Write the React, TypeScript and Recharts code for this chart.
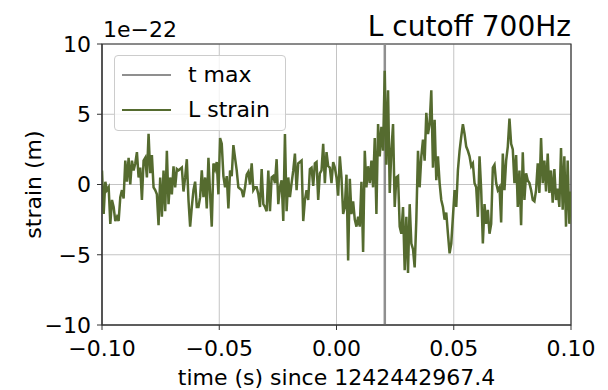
import React from "react";
import {
  LineChart,
  Line,
  XAxis,
  YAxis,
  CartesianGrid,
  ReferenceLine,
  ReferenceArea,
  Legend,
  Label,
} from "recharts";

const FONT = "'DejaVu Sans', sans-serif";

// time window (s since 1242442967.4), evenly sampled
const tStart = -0.1;
const tEnd = 0.1;
const tMax = 0.0206;

// L strain, units of 1e-22 left to right
const strain = [
  1.0, -2.1, 0.2, -0.4, -0.2, -2.8, -1.1, -1.6, -2.6, -2.3, -2.6, -0.9, -0.4, -1.0, 1.7, 0.2,
  1.9, 0.0, 1.7, 1.0, 1.5, 2.3, 0.5, 1.2, -1.1, 1.7, 1.9, 0.5, 3.6, 0.8, 2.1, -0.2, -0.4, -0.7,
  -2.9, 0.5, -2.3, 1.0, -1.9, 2.4, -1.4, 0.5, -0.7, 1.3, -0.2, 1.1,
  1.0, 1.1, 1.2, -0.5, 0.5, 1.8, -1.1, -3.0, -1.6, -0.4, 0.2, -1.6, -1.6, -0.9, 1.0, -0.9, 0.5,
  -1.7, 1.9, -0.7, -3.0, 1.5, 1.1, 1.6, -0.7, 3.3, 2.9, 0.6, -0.2, 0.6, -1.7, 1.0, 0.6, 2.8,
  1.9, 1.0, -0.2, -0.3, -0.4, -0.9, -0.2, 0.7, 0.9, 0.0, 1.5, -0.4, -0.2,
  -0.2, -0.7, -1.6, 1.1, -1.4, -1.6, -1.9, 1.0, -1.9, 0.5, 0.6, 0.1, 1.8, -1.4, -0.2, 0.3, -2.6,
  3.6, -1.9, 0.5, -0.9, 0.1, 1.0, 2.2, -0.4, 1.5, 1.6, 1.7, -2.6, -1.1, -0.4, -1.1, 1.1, 1.2,
  -0.1, 1.5, 1.6, -1.1, 0.8, 1.0, 2.9, 0.1, 2.3, 1.3, 1.2, 0.1, 1.6,
  1.2, 0.5, -0.8, 2.0, 0.5, -2.1, -1.6, 0.7, -5.4, 0.4, -2.1, -1.2, -2.5, -3.0, -2.3, -3.0, 0.2,
  -4.8, 2.4, -0.2, 1.3, 0.1, 1.7, -0.2, 3.3, -2.1, 4.3, 2.0, 4.1, 2.4, 8.1, 1.4, 6.7, -0.6, 2.4,
  4.3, -1.6, 0.5, 0.6, -3.0, -3.5, -1.6, -6.1, -2.3, -6.3, -1.4, -4.2, -4.6,
  -5.9, -2.5, 2.4, -0.2, 2.0, 3.2, 1.7, 5.1, 3.6, 4.3, 6.7, 1.2, 4.6, 0.3, 2.0, 0.1, -1.1, -1.6,
  -2.5, -2.0, -3.5, -4.9, -4.2, -2.3, -0.4, -1.6, 1.0, 2.4, 3.4, 4.3, 3.6, 2.7, 2.4, 2.0, 1.3,
  1.5, 0.1, -0.2, -2.3, 2.0, -0.4, -4.2, -1.4, -2.8, -1.8, -3.5, -2.8,
  1.2, 1.4, 0.1, -0.4, -0.2, -2.7, 2.2, -0.4, 1.7, 2.7, 4.7, 2.9, 2.5, 0.1, 2.1, -1.6, 1.0, -2.9,
  2.3, -1.1, 0.8, 0.3, 0.1, -0.4, -1.1, -1.2, -0.4, 1.5, -0.6, 3.3, 0.1, 1.7, -0.5, 2.2, -0.6,
  1.0, -1.3, 1.1, -1.1, -0.3, -1.6, 2.6, -1.8, 2.0, -3.0, 1.7, -2.8, -0.5,
];

const xTicks = [-0.1, -0.05, 0, 0.05, 0.1];
const yTicks = [-10, -5, 0, 5, 10];

const legendItems = [
  { label: "t max", color: "#8f8f8f" },
  { label: "L strain", color: "#556b2f" },
];

const data = strain.map((v, i) => ({
  t: +(tStart + (i * (tEnd - tStart)) / (strain.length - 1)).toFixed(6),
  v,
}));

const minus = (s: string) => s.replace("-", "\u2212");

function LegendBox() {
  return (
    <div
      style={{
        boxSizing: "border-box",
        width: 172,
        height: 76,
        border: "1px solid #cccccc",
        borderRadius: 4,
        background: "rgba(255,255,255,0.8)",
        padding: "1px 0 0 7px",
        fontFamily: FONT,
        fontSize: 22,
        color: "#000",
      }}
    >
      {legendItems.map((item) => (
        <div key={item.label} style={{ display: "flex", alignItems: "center", height: 35 }}>
          <span
            style={{
              display: "inline-block",
              width: 49,
              borderTop: `2.5px solid ${item.color}`,
              marginRight: 17,
            }}
          />
          <span>{item.label}</span>
        </div>
      ))}
    </div>
  );
}

export default function App() {
  const tick = { fill: "#000", fontSize: 22, fontFamily: FONT };
  return (
    <div
      style={{
        position: "fixed",
        left: 0,
        top: 0,
        width: 608,
        height: 390,
        background: "#fff",
        fontFamily: FONT,
      }}
    >
      <LineChart
        width={608}
        height={390}
        data={data}
        margin={{ top: 44, right: 37, bottom: 0, left: 0 }}
      >
        <CartesianGrid stroke="#c4c4c4" strokeWidth={1} />
        <XAxis
          type="number"
          dataKey="t"
          domain={[tStart, tEnd]}
          ticks={xTicks}
          interval={0}
          allowDataOverflow
          height={65}
          tick={tick}
          tickSize={5}
          tickMargin={10}
          stroke="#333"
          tickFormatter={(v: number) => minus(v.toFixed(2))}
        >
          <Label
            value="time (s) since 1242442967.4"
            position="insideBottom"
            offset={5}
            style={{ fill: "#000", fontSize: 22, fontFamily: FONT }}
          />
        </XAxis>
        <YAxis
          type="number"
          domain={[-10, 10]}
          ticks={yTicks}
          interval={0}
          allowDataOverflow
          width={102}
          tick={tick}
          tickSize={5}
          tickMargin={6}
          stroke="#333"
          tickFormatter={(v: number) => minus(String(v))}
        >
          <Label
            value="strain (m)"
            angle={-90}
            position="insideLeft"
            offset={33}
            style={{ fill: "#000", fontSize: 22, fontFamily: FONT, textAnchor: "middle" }}
          />
        </YAxis>
        <ReferenceLine x={tMax} stroke="#8f8f8f" strokeWidth={2.5} />
        <Line
          type="linear"
          dataKey="v"
          stroke="#556b2f"
          strokeWidth={2.5}
          dot={false}
          isAnimationActive={false}
        />
        <ReferenceArea
          x1={tStart}
          x2={tEnd}
          y1={-10}
          y2={10}
          fill="none"
          fillOpacity={0}
          stroke="#333"
          strokeWidth={1.2}
        />
        <Legend
          layout="vertical"
          align="center"
          verticalAlign="middle"
          wrapperStyle={{ left: 114, top: 55, width: 172, height: 76 }}
          content={() => <LegendBox />}
        />
      </LineChart>
      <div
        style={{
          position: "absolute",
          right: 37,
          top: 13,
          fontSize: 28,
          lineHeight: 1,
          color: "#000",
          whiteSpace: "nowrap",
        }}
      >
        L cutoff 700Hz
      </div>
      <div
        style={{
          position: "absolute",
          left: 103,
          top: 19,
          fontSize: 22,
          lineHeight: 1,
          color: "#000",
          whiteSpace: "nowrap",
        }}
      >
        1e{"\u2212"}22
      </div>
    </div>
  );
}
